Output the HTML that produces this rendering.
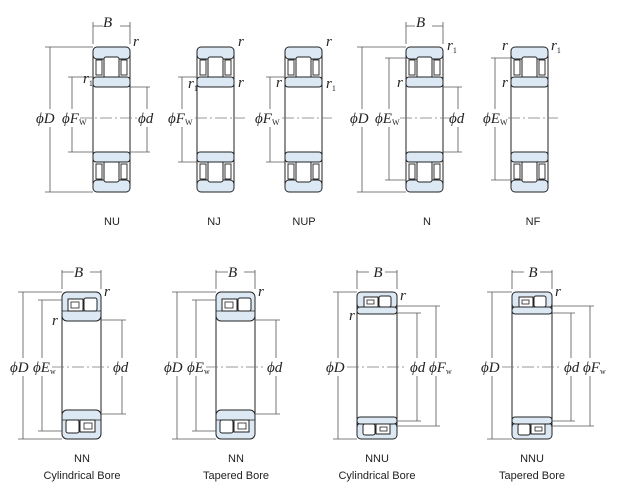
<!DOCTYPE html>
<html><head><meta charset="utf-8"><style>
html,body{margin:0;padding:0;background:#fff}
svg{display:block}
.it{font-family:"Liberation Serif",serif;font-style:italic;font-size:15px;fill:#222}
.sb{font-size:8px;font-style:normal}
.lb{font-family:"Liberation Sans",sans-serif;font-size:11px;fill:#222}
.dl{stroke:#555;stroke-width:0.8;fill:none}
.cl{stroke:#777;stroke-width:0.7;stroke-dasharray:12 3 2 3}
</style></head><body>
<svg width="643" height="497" viewBox="0 0 643 497" xmlns="http://www.w3.org/2000/svg">
<defs>
<g id="halfT">
<rect x="0" y="0" width="37" height="12" rx="4" fill="#dce9f4" stroke="#222" stroke-width="1"/>
<rect x="3" y="13" width="6" height="15" fill="#fff" stroke="#222" stroke-width="0.9"/>
<rect x="28" y="13" width="6" height="15" fill="#fff" stroke="#222" stroke-width="0.9"/>
<rect x="11" y="10" width="15" height="21" rx="2" fill="#fff" stroke="#222" stroke-width="1"/>
<rect x="0" y="30" width="37" height="10" rx="3" fill="#dce9f4" stroke="#222" stroke-width="1"/>
</g>
<g id="brgT">
<use href="#halfT"/>
<use href="#halfT" transform="translate(0,145) scale(1,-1)"/>
<line x1="0" y1="4" x2="0" y2="141" stroke="#222"/>
<line x1="37" y1="4" x2="37" y2="141" stroke="#222"/>
</g>
<g id="halfNN">
<rect x="0" y="0" width="39" height="29" rx="5" fill="#dce9f4" stroke="#222" stroke-width="1"/>
<line x1="0" y1="19" x2="39" y2="19" stroke="#222" stroke-width="0.8"/>
<rect x="6" y="7" width="15" height="12" fill="#fff" stroke="#222"/>
<rect x="9" y="10" width="8" height="6" fill="#fff" stroke="#222" stroke-width="0.8"/>
<rect x="22" y="6" width="13" height="13" rx="2" fill="#fff" stroke="#222"/>
</g>
<g id="brgNN">
<use href="#halfNN"/>
<use href="#halfNN" transform="translate(39,147) scale(-1,-1)"/>
<line x1="0" y1="5" x2="0" y2="142" stroke="#222"/>
<line x1="39" y1="5" x2="39" y2="142" stroke="#222"/>
</g>
<g id="halfNNU">
<rect x="0" y="0" width="40" height="16" rx="4" fill="#dce9f4" stroke="#222" stroke-width="1"/>
<rect x="7" y="5" width="14" height="10" fill="#fff" stroke="#222"/>
<rect x="10" y="8" width="7" height="4" fill="#fff" stroke="#222" stroke-width="0.8"/>
<rect x="22" y="4" width="12" height="11" rx="2" fill="#fff" stroke="#222"/>
<rect x="0" y="15" width="40" height="7" rx="3" fill="#dce9f4" stroke="#222" stroke-width="1"/>
</g>
<g id="brgNNU">
<use href="#halfNNU"/>
<use href="#halfNNU" transform="translate(40,147) scale(-1,-1)"/>
<line x1="0" y1="4" x2="0" y2="143" stroke="#222"/>
<line x1="40" y1="4" x2="40" y2="143" stroke="#222"/>
</g>
</defs>

<!-- TOP ROW -->
<use href="#brgT" x="93" y="47"/>
<use href="#brgT" x="197" y="47"/>
<use href="#brgT" x="285" y="47"/>
<use href="#brgT" x="406" y="47"/>
<use href="#brgT" x="511" y="47"/>

<!-- center lines top -->
<line class="cl" x1="80" y1="118" x2="140" y2="118"/>
<line class="cl" x1="195" y1="118" x2="245" y2="118"/>
<line class="cl" x1="282" y1="118" x2="332" y2="118"/>
<line class="cl" x1="400" y1="118" x2="450" y2="118"/>
<line class="cl" x1="508" y1="118" x2="558" y2="118"/>

<!-- NU dims -->
<path class="dl" d="M93 22V44M130 22V44M93 26H103M120 26H130M45 47H93M45 192H93M50 47V109M50 127V192M68 77H93M68 152H93M72 77V109M72 127V152M130 87H150M130 152H150M147 87V109M147 127V152"/>
<text class="it" x="103" y="27">B</text>
<text class="it" x="133" y="46">r</text>
<text class="it" x="83" y="83">r<tspan class="sb" dy="3">1</tspan></text>
<text class="it" x="36" y="123">ϕD</text>
<text class="it" x="62" y="123">ϕF<tspan class="sb" dy="2">W</tspan></text>
<text class="it" x="138" y="123">ϕd</text>

<!-- NJ dims -->
<path class="dl" d="M178 77H197M178 162H197M182 77V109M182 127V162"/>
<text class="it" x="238" y="46">r</text>
<text class="it" x="238" y="87">r</text>
<text class="it" x="188" y="88">r<tspan class="sb" dy="3">1</tspan></text>
<text class="it" x="168" y="123">ϕF<tspan class="sb" dy="2">W</tspan></text>

<!-- NUP dims -->
<path class="dl" d="M266 77H285M266 162H285M270 77V109M270 127V162"/>
<text class="it" x="326" y="46">r</text>
<text class="it" x="276" y="87">r</text>
<text class="it" x="326" y="88">r<tspan class="sb" dy="3">1</tspan></text>
<text class="it" x="255" y="123">ϕF<tspan class="sb" dy="2">W</tspan></text>

<!-- N dims -->
<path class="dl" d="M406 22V44M443 22V44M406 26H415M432 26H443M357 47H406M357 192H406M362 47V109M362 127V192M385 58H406M385 180H406M389 58V109M389 127V180M443 87H462M443 152H462M458 87V109M458 127V152"/>
<text class="it" x="416" y="27">B</text>
<text class="it" x="447" y="50">r<tspan class="sb" dy="3">1</tspan></text>
<text class="it" x="397" y="87">r</text>
<text class="it" x="350" y="123">ϕD</text>
<text class="it" x="375" y="123">ϕE<tspan class="sb" dy="2">W</tspan></text>
<text class="it" x="449" y="123">ϕd</text>

<!-- NF dims -->
<path class="dl" d="M491 58H511M491 180H511M495 58V109M495 127V180"/>
<text class="it" x="502" y="50">r</text>
<text class="it" x="551" y="50">r<tspan class="sb" dy="3">1</tspan></text>
<text class="it" x="502" y="87">r</text>
<text class="it" x="483" y="123">ϕE<tspan class="sb" dy="2">W</tspan></text>

<text class="lb" x="112" y="225" text-anchor="middle">NU</text>
<text class="lb" x="214" y="225" text-anchor="middle">NJ</text>
<text class="lb" x="304" y="225" text-anchor="middle">NUP</text>
<text class="lb" x="427" y="225" text-anchor="middle">N</text>
<text class="lb" x="533" y="225" text-anchor="middle">NF</text>

<!-- BOTTOM ROW -->
<use href="#brgNN" x="62" y="292"/>
<use href="#brgNN" x="216" y="292"/>
<use href="#brgNNU" x="357" y="292"/>
<use href="#brgNNU" x="512" y="292"/>

<line class="cl" x1="52" y1="367" x2="112" y2="367"/>
<line class="cl" x1="206" y1="367" x2="266" y2="367"/>
<line class="cl" x1="347" y1="367" x2="407" y2="367"/>
<line class="cl" x1="502" y1="367" x2="562" y2="367"/>

<!-- NN cyl -->
<path class="dl" d="M62 270V289M101 270V289M62 272H74M90 272H101M18 292H62M18 439H62M23 292V358M23 376V439M38 300H62M38 431H62M42 300V358M42 376V431M101 320H126M101 414H126M122 320V358M122 376V414"/>
<text class="it" x="74" y="277">B</text>
<text class="it" x="104" y="296">r</text>
<text class="it" x="52" y="325">r</text>
<text class="it" x="10" y="372">ϕD</text>
<text class="it" x="33" y="372">ϕE<tspan class="sb" dy="2">w</tspan></text>
<text class="it" x="113" y="372">ϕd</text>
<text class="lb" x="82" y="462" text-anchor="middle">NN</text>
<text class="lb" x="82" y="479" text-anchor="middle">Cylindrical Bore</text>

<!-- NN tapered -->
<path class="dl" d="M216 270V289M255 270V289M216 272H228M244 272H255M172 292H216M172 439H216M177 292V358M177 376V439M192 300H216M192 431H216M196 300V358M196 376V431M255 320H280M255 414H280M276 320V358M276 376V414"/>
<text class="it" x="228" y="277">B</text>
<text class="it" x="258" y="296">r</text>
<text class="it" x="164" y="372">ϕD</text>
<text class="it" x="187" y="372">ϕE<tspan class="sb" dy="2">w</tspan></text>
<text class="it" x="267" y="372">ϕd</text>
<text class="lb" x="236" y="462" text-anchor="middle">NN</text>
<text class="lb" x="236" y="479" text-anchor="middle">Tapered Bore</text>

<!-- NNU cyl -->
<path class="dl" d="M357 270V289M397 270V289M357 272H369M385 272H397M333 292H357M333 439H357M338 292V358M338 376V439M397 313H421M397 421H421M417 313V358M417 376V421M397 306H440M397 426H440M436 306V358M436 376V426"/>
<text class="it" x="378" y="277" text-anchor="middle">B</text>
<text class="it" x="400" y="300">r</text>
<text class="it" x="349" y="320">r</text>
<text class="it" x="326" y="372">ϕD</text>
<text class="it" x="410" y="372">ϕd</text>
<text class="it" x="429" y="372">ϕF<tspan class="sb" dy="2">w</tspan></text>
<text class="lb" x="377" y="462" text-anchor="middle">NNU</text>
<text class="lb" x="377" y="479" text-anchor="middle">Cylindrical Bore</text>

<!-- NNU tapered -->
<path class="dl" d="M512 270V289M552 270V289M512 272H524M540 272H552M487 292H512M487 439H512M492 292V358M492 376V439M552 313H575M552 421H575M571 313V358M571 376V421M552 306H594M552 426H594M590 306V358M590 376V426"/>
<text class="it" x="533" y="277" text-anchor="middle">B</text>
<text class="it" x="555" y="296">r</text>
<text class="it" x="481" y="372">ϕD</text>
<text class="it" x="564" y="372">ϕd</text>
<text class="it" x="583" y="372">ϕF<tspan class="sb" dy="2">w</tspan></text>
<text class="lb" x="532" y="462" text-anchor="middle">NNU</text>
<text class="lb" x="532" y="479" text-anchor="middle">Tapered Bore</text>
</svg>
</body></html>
